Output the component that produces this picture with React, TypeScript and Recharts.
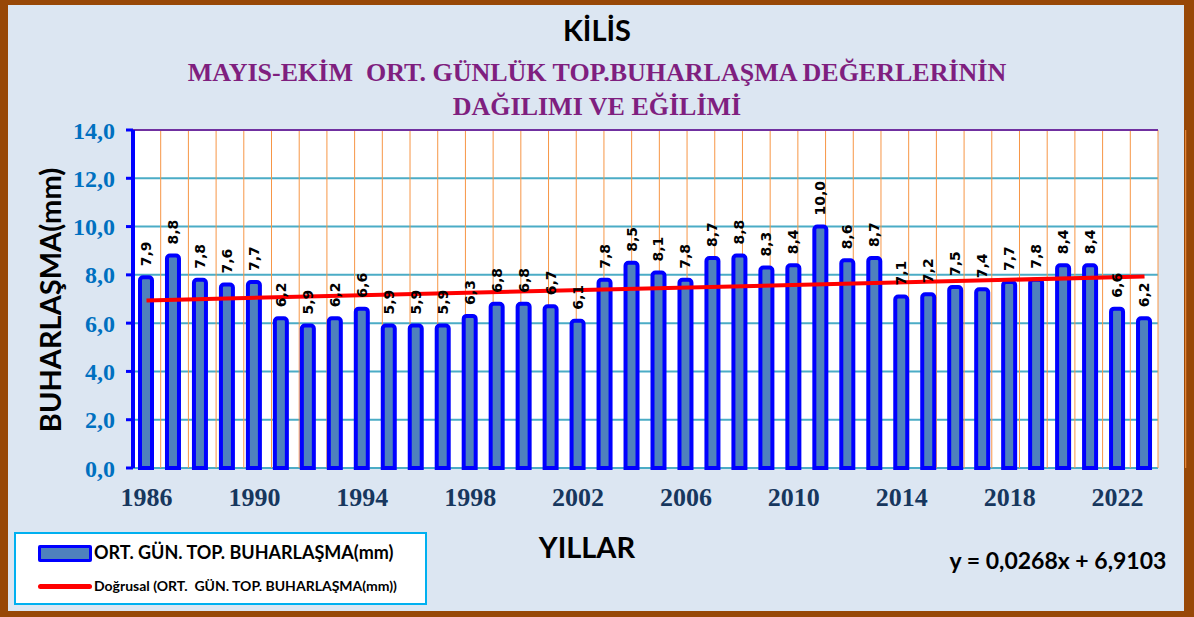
import React from 'react';
import {
  ComposedChart, Bar, Line, XAxis, YAxis, CartesianGrid, LabelList, ReferenceLine
} from 'recharts';

// Kilis - May-Oct average daily total evaporation (mm)
const years = [
  1986, 1987, 1988, 1989, 1990, 1991, 1992, 1993, 1994, 1995,
  1996, 1997, 1998, 1999, 2000, 2001, 2002, 2003, 2004, 2005,
  2006, 2007, 2008, 2009, 2010, 2011, 2012, 2013, 2014, 2015,
  2016, 2017, 2018, 2019, 2020, 2021, 2022, 2023,
];
const evaporation = [
  7.9, 8.8, 7.8, 7.6, 7.7, 6.2, 5.9, 6.2, 6.6, 5.9,
  5.9, 5.9, 6.3, 6.8, 6.8, 6.7, 6.1, 7.8, 8.5, 8.1,
  7.8, 8.7, 8.8, 8.3, 8.4, 10.0, 8.6, 8.7, 7.1, 7.2,
  7.5, 7.4, 7.7, 7.8, 8.4, 8.4, 6.6, 6.2,
];
// linear trend end points as drawn (y = 0,0268x + 6,9103)
const trendStart = 6.94;
const trendEnd = 7.93;
const yTicks = [0, 2, 4, 6, 8, 10, 12, 14];

const data = years.map((year, i) => ({
  year: String(year),
  value: evaporation[i],
  trend: i === 0 ? trendStart : i === years.length - 1 ? trendEnd : null,
}));

// category boundaries for the orange grid and the axis tick marks
const boundaryTicks = Array.from({ length: years.length + 1 }, (_, i) => i);

const fmt = (v: number) => v.toFixed(1).replace('.', ',');

const BarValue = (props: any) => {
  const { x, y, width, value } = props;
  const cx = Number(x) + Number(width) / 2;
  const ty = Number(y) - 11;
  return (
    <text
      x={cx}
      y={ty}
      transform={`rotate(-90, ${cx}, ${ty})`}
      textAnchor="start"
      dominantBaseline="central"
      fill="#000"
      fontFamily="DejaVu Sans"
      fontWeight="bold"
      fontSize={14}
    >
      {fmt(value)}
    </text>
  );
};

const calibri = 'Lato, "Open Sans", sans-serif';
const times = '"Liberation Serif", "Times New Roman", serif';

export default function App() {
  return (
    <div style={{ position: 'fixed', left: 0, top: 0, width: 1194, height: 617, background: '#984807', overflow: 'hidden' }}>
      <div style={{ position: 'absolute', left: 8, top: 5, right: 10, bottom: 6, background: '#DCE6F2' }} />

      <div style={{ position: 'absolute', left: 0, top: 0 }}>
        <ComposedChart
          width={1194}
          height={617}
          data={data}
          margin={{ top: 130, right: 36, left: 73, bottom: 109 }}
        >
          <CartesianGrid xAxisId="grid" vertical={false} stroke="#4BACC6" strokeWidth={2} fill="#FFFFFF" />
          <CartesianGrid xAxisId="grid" horizontal={false} stroke="#F79646" strokeWidth={1} />
          <XAxis
            xAxisId="grid"
            type="number"
            domain={[0, years.length]}
            allowDataOverflow
            ticks={boundaryTicks}
            tickFormatter={() => ''}
            height={0}
            tickSize={7}
            axisLine={{ stroke: '#0000FF', strokeWidth: 4 }}
            tickLine={{ stroke: '#0000FF', strokeWidth: 3 }}
          />
          <XAxis
            xAxisId="cat"
            dataKey="year"
            interval={3}
            height={40}
            axisLine={false}
            tickLine={false}
            tickMargin={14}
            tick={{ fill: '#17375E', fontFamily: times, fontWeight: 'bold', fontSize: 26 }}
          />
          <YAxis
            domain={[0, 14]}
            ticks={yTicks}
            width={60}
            tickFormatter={fmt}
            tickSize={7}
            tickMargin={11}
            axisLine={{ stroke: '#0000FF', strokeWidth: 4 }}
            tickLine={{ stroke: '#0000FF', strokeWidth: 3 }}
            tick={{ fill: '#0070C0', fontFamily: times, fontWeight: 'bold', fontSize: 24 }}
          />
          <ReferenceLine y={14} xAxisId="grid" stroke="#7030A0" strokeWidth={2} />
          <ReferenceLine x={years.length} xAxisId="grid" stroke="#7030A0" strokeWidth={1} />
          <Bar
            xAxisId="cat"
            dataKey="value"
            fill="#4F81BD"
            stroke="#0000FF"
            strokeWidth={4}
            barSize={12}
            radius={[3, 3, 0, 0]}
            isAnimationActive={false}
          >
            <LabelList dataKey="value" content={BarValue} />
          </Bar>
          <Line
            xAxisId="cat"
            dataKey="trend"
            connectNulls
            stroke="#FF0000"
            strokeWidth={4}
            dot={false}
            activeDot={false}
            isAnimationActive={false}
          />
        </ComposedChart>
      </div>

      {/* titles */}
      <div style={{ position: 'absolute', left: 0, width: 1194, top: 13, textAlign: 'center', fontFamily: calibri, fontWeight: 'bold', fontSize: 29, lineHeight: '34px', color: '#000' }}>
        KİLİS
      </div>
      <div style={{ position: 'absolute', left: 0, width: 1194, top: 56, textAlign: 'center', fontFamily: times, fontWeight: 'bold', fontSize: 26, lineHeight: '34px', color: '#7F1F7F' }}>
        MAYIS-EKİM&nbsp; ORT. GÜNLÜK TOP.BUHARLAŞMA DEĞERLERİNİN<br />DAĞILIMI VE EĞİLİMİ
      </div>

      {/* y axis title */}
      <div style={{ position: 'absolute', left: 49, top: 300, transform: 'translate(-50%, -50%) rotate(-90deg)', whiteSpace: 'nowrap', fontFamily: calibri, fontWeight: 'bold', fontSize: 29, color: '#000' }}>
        BUHARLAŞMA(mm)
      </div>

      {/* x axis title */}
      <div style={{ position: 'absolute', left: 587, top: 546, transform: 'translate(-50%, -50%)', whiteSpace: 'nowrap', fontFamily: calibri, fontWeight: 'bold', fontSize: 29, color: '#000' }}>
        YILLAR
      </div>

      {/* trend equation */}
      <div style={{ position: 'absolute', left: 1058, top: 560, transform: 'translate(-50%, -50%)', whiteSpace: 'nowrap', fontFamily: calibri, fontWeight: 'bold', fontSize: 23, color: '#000' }}>
        y = 0,0268x + 6,9103
      </div>

      {/* legend */}
      <div style={{ position: 'absolute', left: 14, top: 532, width: 409, height: 69, background: '#FFFFFF', border: '2px solid #00B0F0' }}>
        <div style={{ position: 'absolute', left: 22, top: 11, width: 48, height: 11, background: '#4F81BD', border: '3px solid #0000FF', borderRadius: 2 }} />
        <div style={{ position: 'absolute', left: 78, top: 7, whiteSpace: 'nowrap', fontFamily: calibri, fontWeight: 'bold', fontSize: 18, color: '#000' }}>
          ORT. GÜN. TOP. BUHARLAŞMA(mm)
        </div>
        <div style={{ position: 'absolute', left: 22, top: 50, width: 54, height: 5, background: '#FF0000', borderRadius: 3 }} />
        <div style={{ position: 'absolute', left: 78, top: 43, whiteSpace: 'nowrap', fontFamily: calibri, fontWeight: 'bold', fontSize: 14, color: '#000' }}>
          Doğrusal (ORT.&nbsp; GÜN. TOP. BUHARLAŞMA(mm))
        </div>
      </div>
    </div>
  );
}
